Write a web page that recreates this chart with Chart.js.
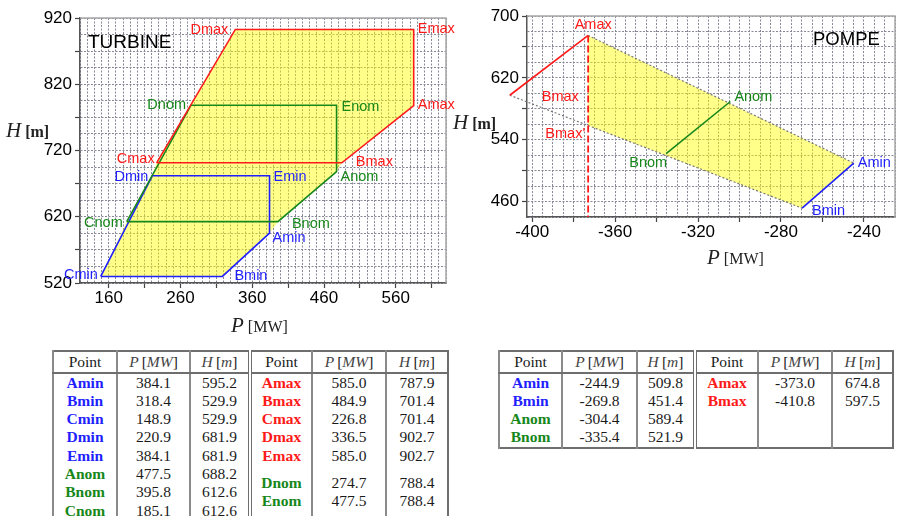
<!DOCTYPE html>
<html lang="fr">
<head>
<meta charset="UTF-8">
<title>Domaines de fonctionnement turbine / pompe</title>
<script src="https://cdn.jsdelivr.net/npm/chart.js@4"></script>
<style>
  body { margin:0; width:898px; height:516px; overflow:hidden; position:relative; background:#fff;
         font-family:'Liberation Sans', Arial, sans-serif; }
  .box { position:absolute; }
  .ttl { position:absolute; white-space:nowrap; line-height:26px; color:#222;
         font-family:'Liberation Serif','Times New Roman',serif; }
  .ttl i { font-size:21px; }
  .ttl span { font-size:16px; }
  .tag { position:absolute; font-size:19px; line-height:24px; color:#000; white-space:nowrap; }
  table.pts { position:absolute; border-collapse:collapse; table-layout:fixed;
              font-family:'Liberation Serif','Times New Roman',serif; font-size:15.5px; color:#1a1a1a;
              border:2px solid #6e6e6e; }
  table.pts th { font-weight:normal; height:19.5px; line-height:19.5px; padding:0; text-align:center;
                 border-bottom:2px solid #6e6e6e; border-left:2px solid #8a8a8a; }
  table.pts th i { color:#444; }
  table.pts td { height:18.3px; line-height:18.3px; padding:0; text-align:center; border-left:2px solid #8a8a8a; }
  table.pts .mid { border-left:4px double #6e6e6e; }
  table.pts .nm { font-weight:bold; }
</style>
</head>
<body>
<div class="box" style="left:0;top:0;width:462px;height:340px"><canvas id="turbine"></canvas></div>
<div class="box" style="left:450px;top:0;width:448px;height:300px"><canvas id="pompe"></canvas></div>

<div class="tag" style="left:88px;top:30px">TURBINE</div>
<div class="tag" style="left:813px;top:27px;font-size:18.5px">POMPE</div>
<div class="ttl" style="left:6px;top:117px"><i>H</i> <span><b>[m]</b></span></div>
<div class="ttl" style="left:231px;top:312px"><i>P</i> <span>[MW]</span></div>
<div class="ttl" style="left:453px;top:109px"><i>H</i> <span><b>[m]</b></span></div>
<div class="ttl" style="left:707px;top:244px"><i>P</i> <span>[MW]</span></div>

<table class="pts" id="tabTurbine" style="left:52px;top:350px;width:395px">
  <colgroup><col style="width:64px"><col style="width:73px"><col style="width:60px"><col style="width:62px"><col style="width:74px"><col style="width:62px"></colgroup>
</table>
<table class="pts" id="tabPompe" style="left:498px;top:350px;width:394px">
  <colgroup><col style="width:63px"><col style="width:75px"><col style="width:58px"><col style="width:63px"><col style="width:74px"><col style="width:61px"></colgroup>
</table>

<script>
// ---- turbine operating points ----
const turbineNames = ['Amin', 'Bmin', 'Cmin', 'Dmin', 'Emin', 'Anom', 'Bnom', 'Cnom',
                      'Amax', 'Bmax', 'Cmax', 'Dmax', 'Emax', 'Dnom', 'Enom'];
const turbineP = [384.1, 318.4, 148.9, 220.9, 384.1, 477.5, 395.8, 185.1,
                  585.0, 484.9, 226.8, 336.5, 585.0, 274.7, 477.5];
const turbineH = [595.2, 529.9, 529.9, 681.9, 681.9, 688.2, 612.6, 612.6,
                  787.9, 701.4, 701.4, 902.7, 902.7, 788.4, 788.4];

// ---- pump operating points ----
const pompeNames = ['Amin', 'Bmin', 'Anom', 'Bnom', 'Amax', 'Bmax'];
const pompeP = [-244.9, -269.8, -304.4, -335.4, -373.0, -410.8];
const pompeH = [509.8, 451.4, 589.4, 521.9, 674.8, 597.5];
// Bmax' : head where the Bmax-Bmin edge meets the Amax power limit
const pompeBmaxPrimeH = 558.3;

// ---- tick labels ----
const turbineXLabels = [160, 260, 360, 460, 560];
const turbineYLabels = [520, 620, 720, 820, 920];
const pompeXLabels = [-400, -360, -320, -280, -240];
const pompeYLabels = [460, 540, 620, 700];

const BLUE = '#1f1fff', GREEN = '#17871a', RED = '#ff1a1a', YELLOW = 'rgba(255,255,0,0.46)';

Chart.defaults.font.family = "'Liberation Sans', Arial, sans-serif";

function pt(names, P, H, n) {
  const i = names.indexOf(n);
  return { x: P[i], y: H[i] };
}
const tp = n => pt(turbineNames, turbineP, turbineH, n);
const pp = n => pt(pompeNames, pompeP, pompeH, n);

function colorOf(n) {
  return n.endsWith('min') ? BLUE : n.endsWith('nom') ? GREEN : RED;
}

// grid positions: every `step` from `origin`, kept inside [min, max]
function gridValues(min, max, step, origin) {
  const v = [];
  for (let a = origin + Math.ceil((min - origin) / step - 1e-9) * step; a <= max + 1e-9; a += step) {
    v.push(Math.round(a * 100) / 100);
  }
  return v;
}

// linear axis with a dotted grid, sparse tick marks and sparse labels
function axis(o) {
  return {
    type: 'linear', min: o.min, max: o.max,
    afterBuildTicks: s => { s.ticks = gridValues(o.min, o.max, o.grid, o.markFrom).map(v => ({ value: v })); },
    afterFit: s => { if (s.isHorizontal()) s.height = o.size; else s.width = o.size; },
    ticks: {
      autoSkip: false, maxRotation: 0, color: '#000', font: { size: 17 }, padding: o.pad,
      callback: v => o.labels.includes(v) ? String(v) : ''
    },
    grid: {
      color: '#878796', lineWidth: 1, tickLength: 5, tickWidth: 1.2,
      tickColor: c => (c.tick && Math.abs((c.tick.value - o.markFrom) % o.mark) < 1e-6) ? '#444' : 'rgba(0,0,0,0)'
    },
    border: { color: '#555', width: 1.5, dash: [2, 1.5] }
  };
}

const framePlugin = {
  id: 'frame',
  beforeDatasetsDraw(chart) {
    const { ctx, chartArea: a } = chart;
    ctx.save();
    ctx.strokeStyle = '#a8a8a8';
    ctx.lineWidth = 1.5;
    ctx.beginPath();
    ctx.moveTo(a.left, a.top); ctx.lineTo(a.right, a.top); ctx.lineTo(a.right, a.bottom);
    ctx.stroke();
    ctx.restore();
  }
};

// names written next to their points
function labelPlugin(items) {
  return {
    id: 'pointNames',
    afterDatasetsDraw(chart) {
      const { ctx, scales: { x, y } } = chart;
      ctx.save();
      ctx.font = "14.5px 'Liberation Sans', Arial, sans-serif";
      ctx.textBaseline = 'middle';
      items.forEach(it => {
        ctx.fillStyle = it.color;
        ctx.textAlign = it.align;
        ctx.fillText(it.text, x.getPixelForValue(it.p.x) + it.dx, y.getPixelForValue(it.p.y) + it.dy);
      });
      ctx.restore();
    }
  };
}

function line(data, color, extra) {
  return Object.assign({
    data, showLine: true, borderColor: color, borderWidth: 1.6, pointRadius: 0,
    tension: 0, fill: false, clip: false, order: 1
  }, extra || {});
}

// ================= TURBINE =================
const loopMax = ['Cmax', 'Bmax', 'Amax', 'Emax', 'Dmax', 'Cmax'].map(tp);
const loopNom = ['Cnom', 'Bnom', 'Anom', 'Enom', 'Dnom', 'Cnom'].map(tp);
const loopMin = ['Cmin', 'Bmin', 'Amin', 'Emin', 'Dmin', 'Cmin'].map(tp);
const turbineArea = ['Cmin', 'Bmin', 'Amin', 'Bnom', 'Anom', 'Bmax', 'Amax', 'Emax',
                     'Dmax', 'Dnom', 'Cmax', 'Dmin', 'Cnom'].map(tp);

const turbineTags = {
  Dmax: ['right', -7, 1], Emax: ['left', 4, 0], Amax: ['left', 4, -1],
  Enom: ['left', 5, 2], Dnom: ['right', -5, 0], Cmax: ['right', -2, -4],
  Bmax: ['left', 14, -1], Dmin: ['right', -4, 1], Emin: ['left', 4, 1],
  Anom: ['left', 4, 5], Cnom: ['right', -4, 1], Bnom: ['left', 14, 2],
  Amin: ['left', 3, 5], Cmin: ['right', -3, -1], Bmin: ['left', 12, 0]
};

new Chart(document.getElementById('turbine'), {
  type: 'scatter',
  data: {
    datasets: [
      line(loopMax, RED),
      line(loopNom, GREEN),
      line(loopMin, BLUE),
      line(turbineArea, 'rgba(0,0,0,0)', { borderWidth: 0, fill: 'shape', backgroundColor: YELLOW, order: 5 })
    ]
  },
  options: {
    responsive: true, maintainAspectRatio: false, animation: false, devicePixelRatio: 1,
    layout: { padding: { left: 0, right: 16, top: 18, bottom: 0 } },
    plugins: { legend: { display: false }, tooltip: { enabled: false } },
    scales: {
      x: axis({ min: 120, max: 630, grid: 10, mark: 50, markFrom: 160, labels: turbineXLabels, size: 57, pad: 0 }),
      y: axis({ min: 520, max: 920, grid: 25, mark: 50, markFrom: 520, labels: turbineYLabels, size: 80, pad: 3 })
    }
  },
  plugins: [framePlugin, labelPlugin(Object.keys(turbineTags).map(n => ({
    text: n, p: tp(n), color: colorOf(n), align: turbineTags[n][0], dx: turbineTags[n][1], dy: turbineTags[n][2]
  })))]
});

// ================= POMPE =================
const pompeYMin = 440;
const bmaxPrime = { x: pp('Amax').x, y: pompeBmaxPrimeH };
const pompeArea = [pp('Amax'), pp('Amin'), pp('Bmin'), bmaxPrime];

const pompeTags = {
  Amax: ['center', 5, -10], Bmax: ['left', 32, 2], Anom: ['left', 4, -5],
  Bnom: ['right', 1, 9], Amin: ['left', 4, 0], Bmin: ['left', 10, 3]
};
const pompeItems = Object.keys(pompeTags).map(n => ({
  text: n, p: pp(n), color: colorOf(n), align: pompeTags[n][0], dx: pompeTags[n][1], dy: pompeTags[n][2]
}));
pompeItems.push({ text: "Bmax'", p: bmaxPrime, color: RED, align: 'right', dx: -3, dy: 8 });

new Chart(document.getElementById('pompe'), {
  type: 'scatter',
  data: {
    datasets: [
      line([pp('Bmax'), pp('Amax')], RED),
      line([pp('Amax'), { x: pp('Amax').x, y: pompeYMin }], RED, { borderDash: [7, 3], borderWidth: 1.8 }),
      line([pp('Bnom'), pp('Anom')], GREEN),
      line([pp('Bmin'), pp('Amin')], BLUE),
      line([pp('Amax'), pp('Amin')], '#777', { borderWidth: 1.2, borderDash: [2, 2], order: 2 }),
      line([pp('Bmax'), pp('Bmin')], '#777', { borderWidth: 1.2, borderDash: [2, 2], order: 2 }),
      line(pompeArea, 'rgba(0,0,0,0)', { borderWidth: 0, fill: 'shape', backgroundColor: YELLOW, order: 5 })
    ]
  },
  options: {
    responsive: true, maintainAspectRatio: false, animation: false, devicePixelRatio: 1,
    layout: { padding: { left: 0, right: 3, top: 16, bottom: 0 } },
    plugins: { legend: { display: false }, tooltip: { enabled: false } },
    scales: {
      x: axis({ min: -402.5, max: -225, grid: 5, mark: 20, markFrom: -400, labels: pompeXLabels, size: 83, pad: 0 }),
      y: axis({ min: pompeYMin, max: 700, grid: 20, mark: 40, markFrom: 460, labels: pompeYLabels, size: 77, pad: 3 })
    }
  },
  plugins: [framePlugin, labelPlugin(pompeItems)]
});

// ================= tables =================
const HEAD = '<th>Point</th><th><i>P</i>&#8201;[<i>MW</i>]</th><th><i>H</i>&#8201;[<i>m</i>]</th>';
const HEAD_MID = '<th class="mid">Point</th><th><i>P</i>&#8201;[<i>MW</i>]</th><th><i>H</i>&#8201;[<i>m</i>]</th>';

function cells(names, P, H, n, mid) {
  const i = names.indexOf(n);
  return `<td class="nm${mid ? ' mid' : ''}" style="color:${colorOf(n)}">${n}</td>` +
         `<td>${P[i].toFixed(1)}</td><td>${H[i].toFixed(1)}</td>`;
}
function groupCells(names, P, H, list, span) {
  const col = f => list.map(f).join('');
  return `<td class="nm mid" rowspan="${span}">${col(n => `<div style="color:${colorOf(n)}">${n}</div>`)}</td>` +
         `<td rowspan="${span}">${col(n => `<div>${P[names.indexOf(n)].toFixed(1)}</div>`)}</td>` +
         `<td rowspan="${span}">${col(n => `<div>${H[names.indexOf(n)].toFixed(1)}</div>`)}</td>`;
}

const tLeft = ['Amin', 'Bmin', 'Cmin', 'Dmin', 'Emin', 'Anom', 'Bnom', 'Cnom'];
const tRight = ['Amax', 'Bmax', 'Cmax', 'Dmax', 'Emax'];
const tGroup = ['Dnom', 'Enom'];
let html = '<tr>' + HEAD + HEAD_MID + '</tr>';
tLeft.forEach((n, r) => {
  html += '<tr>' + cells(turbineNames, turbineP, turbineH, n, false);
  if (r < tRight.length) html += cells(turbineNames, turbineP, turbineH, tRight[r], true);
  else if (r === tRight.length) html += groupCells(turbineNames, turbineP, turbineH, tGroup, tLeft.length - tRight.length);
  html += '</tr>';
});
document.getElementById('tabTurbine').insertAdjacentHTML('beforeend', html);

const pLeft = ['Amin', 'Bmin', 'Anom', 'Bnom'];
const pRight = ['Amax', 'Bmax'];
html = '<tr>' + HEAD + HEAD_MID + '</tr>';
pLeft.forEach((n, r) => {
  html += '<tr>' + cells(pompeNames, pompeP, pompeH, n, false);
  if (r < pRight.length) html += cells(pompeNames, pompeP, pompeH, pRight[r], true);
  else if (r === pRight.length) html += `<td class="mid" rowspan="${pLeft.length - pRight.length}"></td><td rowspan="2"></td><td rowspan="2"></td>`;
  html += '</tr>';
});
document.getElementById('tabPompe').insertAdjacentHTML('beforeend', html);
</script>
</body>
</html>
